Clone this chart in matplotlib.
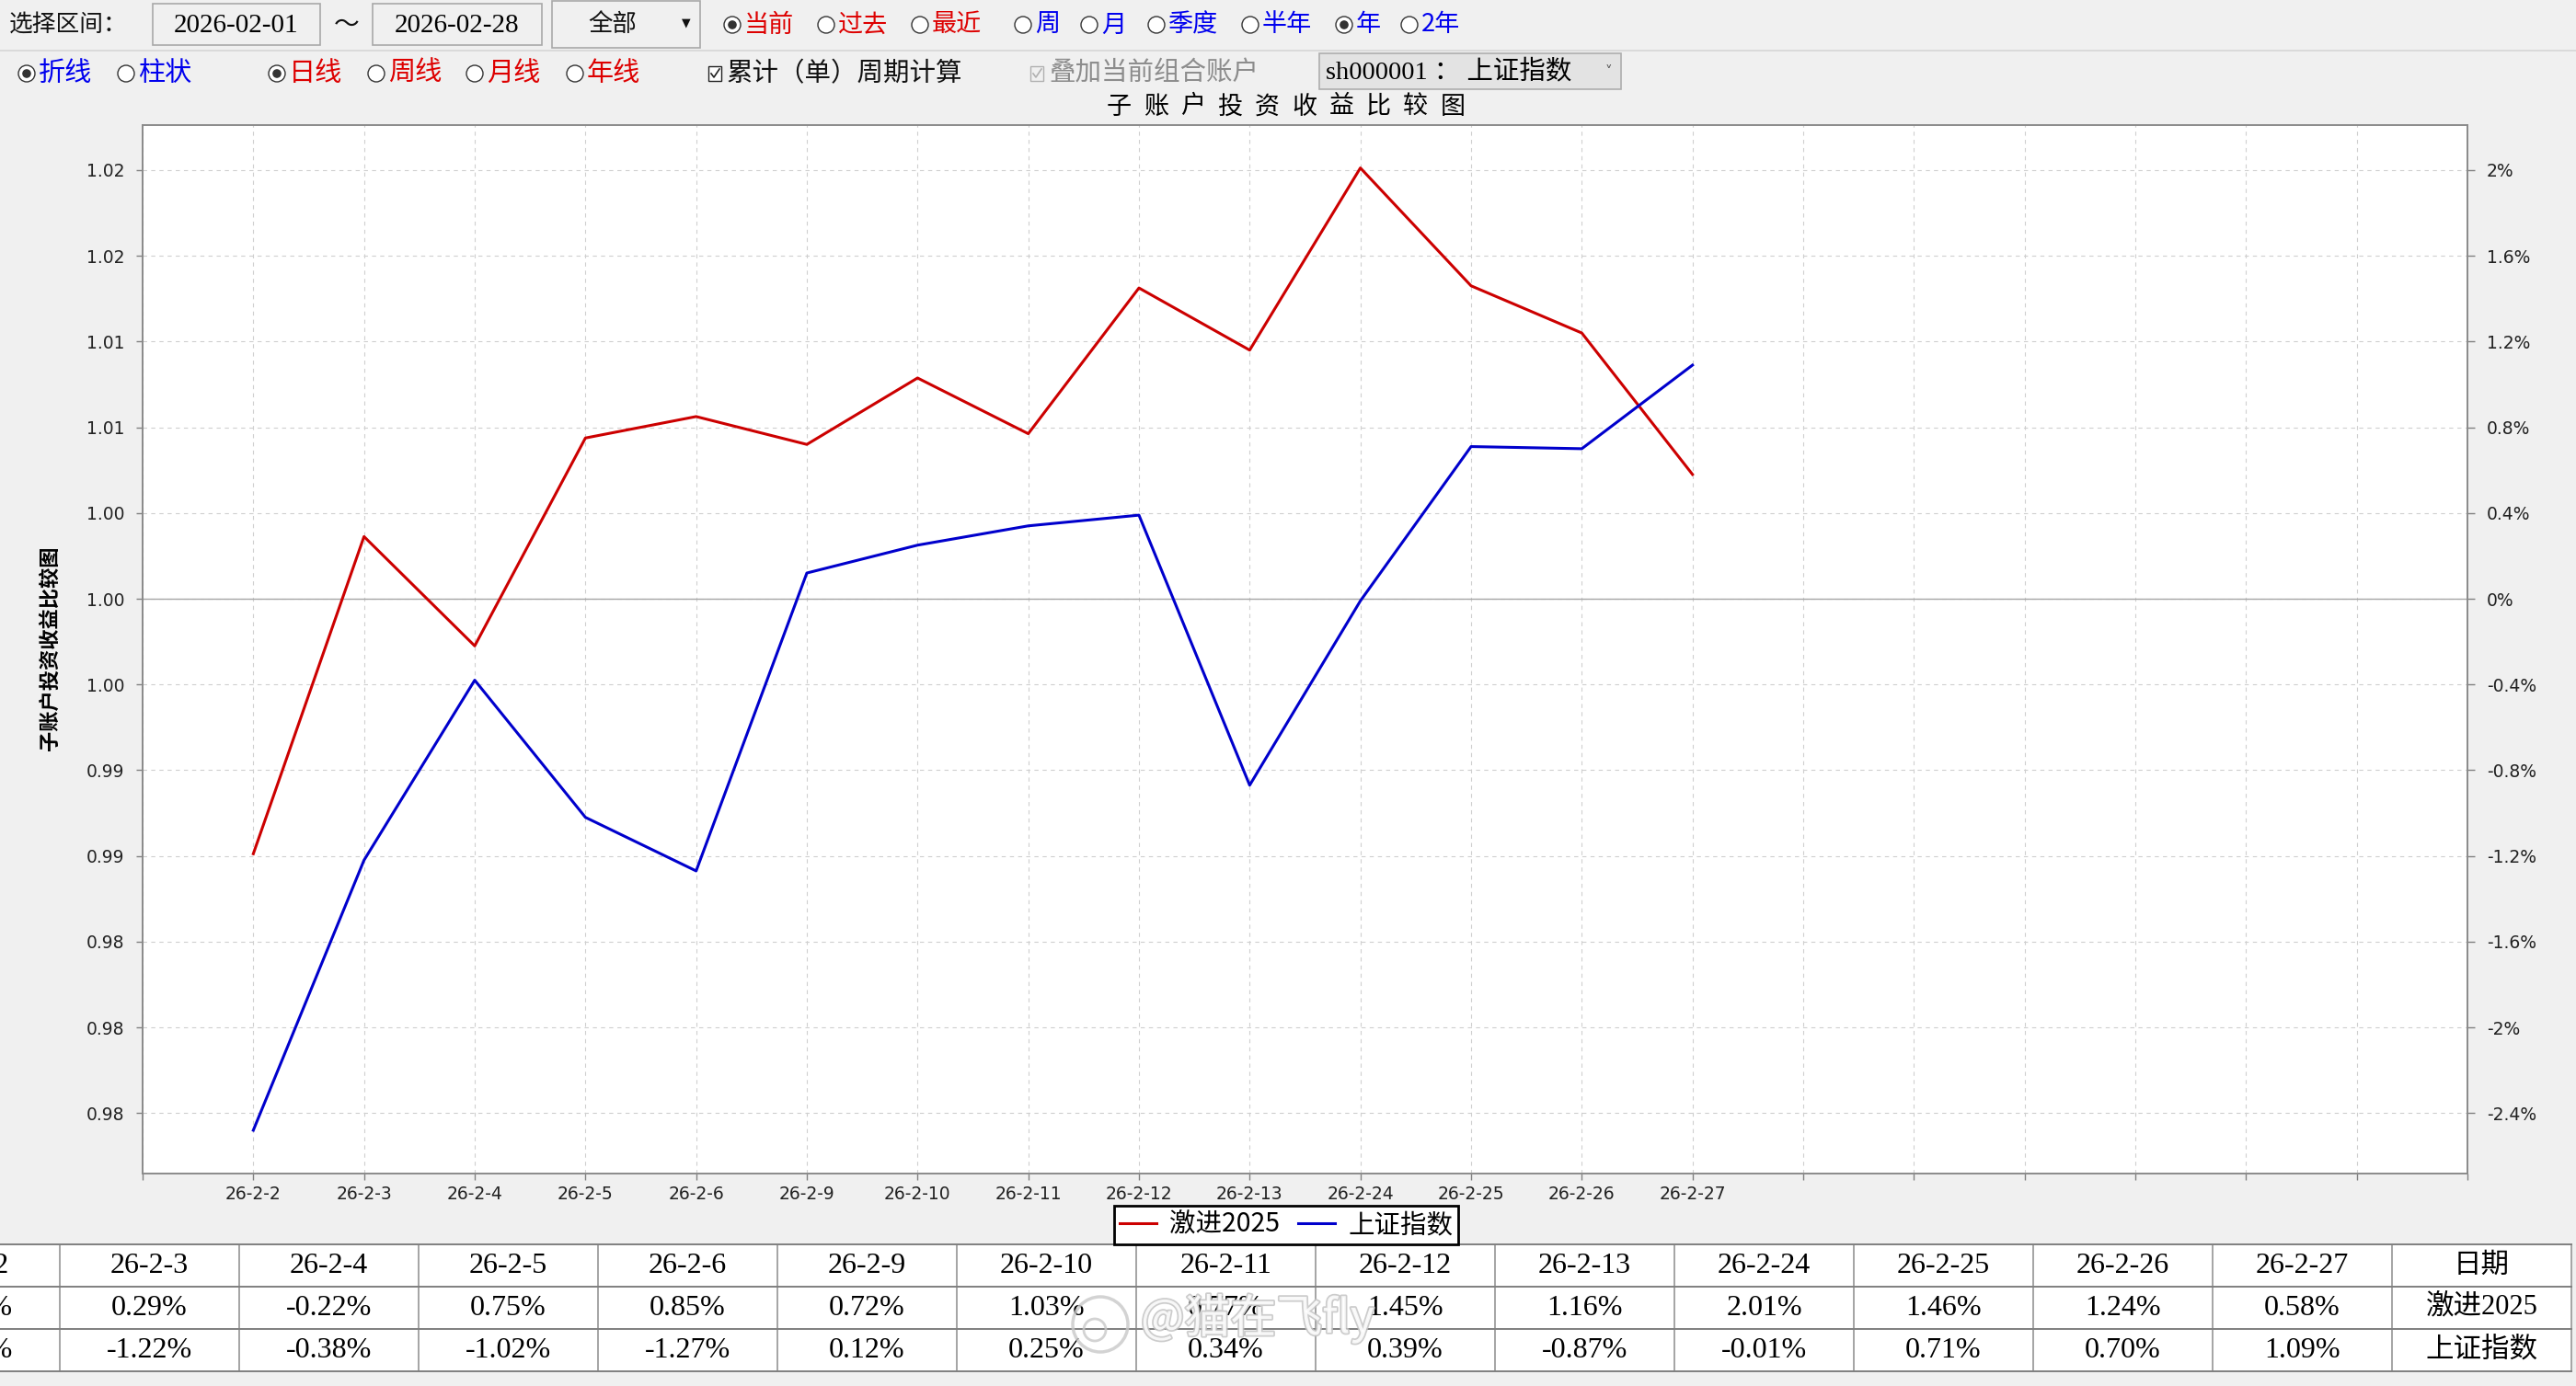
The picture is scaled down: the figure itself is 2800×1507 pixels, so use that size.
import matplotlib
matplotlib.use('Agg')
import matplotlib.pyplot as plt
from matplotlib.patches import Rectangle, Circle
import matplotlib.patheffects as pe

# ---------------- data ----------------
dates = ['26-2-2', '26-2-3', '26-2-4', '26-2-5', '26-2-6', '26-2-9', '26-2-10',
         '26-2-11', '26-2-12', '26-2-13', '26-2-24', '26-2-25', '26-2-26', '26-2-27']
series_names = ['激进2025', '上证指数']
aggressive = [-1.19, 0.29, -0.22, 0.75, 0.85, 0.72, 1.03, 0.77, 1.45, 1.16, 2.01, 1.46, 1.24, 0.58]
index_sh = [-2.48, -1.22, -0.38, -1.02, -1.27, 0.12, 0.25, 0.34, 0.39, -0.87, -0.01, 0.71, 0.70, 1.09]
pct_ticks = [-2.4, -2.0, -1.6, -1.2, -0.8, -0.4, 0.0, 0.4, 0.8, 1.2, 1.6, 2.0]
pct_tick_labels = ['-2.4%', '-2%', '-1.6%', '-1.2%', '-0.8%', '-0.4%', '0%', '0.4%', '0.8%', '1.2%', '1.6%', '2%']
ratio_tick_labels = ['0.98', '0.98', '0.98', '0.99', '0.99', '1.00', '1.00', '1.00', '1.01', '1.01', '1.02', '1.02']
chart_title = '子账户投资收益比较图'
table_header = '日期'

range_label = '选择区间：'
start_date = '2026-02-01'
end_date = '2026-02-28'
scope_choice = '全部'
row1_radios = [('当前', True, 'r'), ('过去', False, 'r'), ('最近', False, 'r'), ('周', False, 'b'),
               ('月', False, 'b'), ('季度', False, 'b'), ('半年', False, 'b'), ('年', True, 'b'),
               ('2年', False, 'b')]
row2_radios = [('折线', True, 'b'), ('柱状', False, 'b'), ('日线', True, 'r'), ('周线', False, 'r'),
               ('月线', False, 'r'), ('年线', False, 'r')]
check1 = '累计（单）周期计算'
check2 = '叠加当前组合账户'
index_choice = 'sh000001 ： 上证指数'
watermark = '@猫在飞fly'

# ---------------- layout ----------------
W, H = 2800, 1507
RED_T, BLUE_T = '#DD0000', '#0000EE'
CJK = ['Noto Sans CJK SC', 'DejaVu Sans']
SERIF = ['Liberation Serif', 'Noto Sans CJK SC', 'DejaVu Sans']

fig = plt.figure(figsize=(W / 100, H / 100), dpi=100, facecolor='#F0F0F0')
bg = fig.add_axes([0, 0, 1, 1], zorder=0)
bg.set_xlim(0, W)
bg.set_ylim(H, 0)
bg.axis('off')

# ---- toolbar row 1 ----
y1 = 27
bg.text(10, y1, range_label, fontsize=18.5, family=CJK, va='center', ha='left', color='#111111')
for (x0, x1_, txt) in [(166, 348, start_date), (405, 589, end_date)]:
    bg.add_patch(Rectangle((x0, 4), x1_ - x0, 45, fc='#F0F0F0', ec='#A8A8A8', lw=1.2))
    bg.text((x0 + x1_) / 2, y1 + 1, txt, fontsize=21, family=SERIF, va='center', ha='center', color='black')
bg.text(377, y1, '～', fontsize=20, family=CJK, va='center', ha='center', color='#111111')
bg.add_patch(Rectangle((600, 1), 161, 51, fc='#F0F0F0', ec='#A8A8A8', lw=1.2))
bg.text(666, y1, scope_choice, fontsize=19, family=CJK, va='center', ha='center', color='#111111')
bg.text(746, y1 - 2, '▼', fontsize=9, family=['DejaVu Sans'], va='center', ha='center', color='#111111')

def radio(xc, yc, sel, label, col, size):
    bg.add_patch(Circle((xc, yc), 9, fc='white', ec='#333333', lw=1.0))
    if sel:
        bg.add_patch(Circle((xc, yc), 4.8, fc='#333333', ec='none'))
    bg.text(xc + 13, yc, label, fontsize=size, family=CJK, va='center', ha='left',
            color=RED_T if col == 'r' else BLUE_T)

row1_x = [796, 898, 1000, 1112, 1184, 1257, 1359, 1461, 1532]
for xc, (lab, sel, col) in zip(row1_x, row1_radios):
    radio(xc, y1, sel, lab, col, 19.5)

bg.plot([0, W], [55, 55], color='#D6D6D6', lw=1.2)

# ---- toolbar row 2 ----
y2 = 80
row2_x = [29, 137, 301, 409, 516, 625]
for xc, (lab, sel, col) in zip(row2_x, row2_radios):
    radio(xc, y2, sel, lab, col, 21)

def checkbox(xc, yc, label, enabled):
    c = '#222222' if enabled else '#B0B0B0'
    bg.add_patch(Rectangle((xc - 7, yc - 8), 14, 16, fc='white' if enabled else '#F0F0F0', ec=c, lw=1.0))
    bg.plot([xc - 4, xc - 1, xc + 5], [yc, yc + 4, yc - 5], color=c, lw=1.2)
    bg.text(xc + 13, yc, label, fontsize=20.5, family=CJK, va='center', ha='left',
            color='#111111' if enabled else '#8C8C8C')

checkbox(777, y2, check1, True)
checkbox(1127, y2, check2, False)
bg.add_patch(Rectangle((1434, 58), 328, 39, fc='#E3E3E3', ec='#ADADAD', lw=1.2))
bg.text(1441, 78, index_choice, fontsize=20.5, family=SERIF, va='center', ha='left', color='black')
bg.text(1748, 79, '˅', fontsize=11, family=['DejaVu Sans'], va='center', ha='center', color='#555555')

# ---- chart title (letter-spaced) ----
n_t = len(chart_title)
for i, ch in enumerate(chart_title):
    bg.text(1216 + (1579 - 1216) * i / (n_t - 1), 116, ch, fontsize=19.5, family=CJK,
            va='center', ha='center', color='black')

# y-axis title
bg.text(54, 705, chart_title, rotation=90, fontsize=16, family=CJK, va='center', ha='center',
        color='black', fontweight='bold')

# ---------------- main plot ----------------
ax = fig.add_axes([155 / W, 1 - 1276 / H, (2682 - 155) / W, (1276 - 136) / H], zorder=2)
ax.set_facecolor('white')
xs = list(range(len(dates)))
l1, = ax.plot(xs, aggressive, color='#CC0000', lw=2.2, zorder=3)
l2, = ax.plot(xs, index_sh, color='#0000CC', lw=2.2, zorder=3)
ax.set_xlim(-1, 20)
ylim = (-2.682, 2.21)
ax.set_ylim(*ylim)
xt = list(range(-1, 21))
ax.set_xticks(xt)
ax.set_xticklabels([dates[t] if 0 <= t < len(dates) else '' for t in xt])
ax.set_yticks(pct_ticks)
ax.set_yticklabels(ratio_tick_labels)
ax.grid(True, linestyle=(0, (4, 4)), color='#CFCFCF', lw=0.8, zorder=1)
ax.axhline(0, color='#A6A6A6', lw=1.0, zorder=2)
ax.tick_params(axis='both', direction='out', length=5, width=1, color='#808080',
               labelsize=13.5, labelcolor='#222222')
ax.tick_params(axis='x', pad=4)
ax.tick_params(axis='y', pad=9)
for s in ax.spines.values():
    s.set_color('#8A8A8A')
    s.set_linewidth(1.2)

ax2 = ax.twinx()
ax2.set_ylim(*ylim)
ax2.set_yticks(pct_ticks)
ax2.set_yticklabels(pct_tick_labels)
ax2.tick_params(axis='y', direction='out', length=6, width=1, color='#808080',
                labelsize=13.5, labelcolor='#222222', pad=9)
for s in ax2.spines.values():
    s.set_color('#8A8A8A')
    s.set_linewidth(1.2)
for t in ax.get_xticklabels() + ax.get_yticklabels() + ax2.get_yticklabels():
    t.set_family(['DejaVu Sans'])

leg = fig.legend([l1, l2], series_names, loc='center', bbox_to_anchor=(1398 / W, 1 - 1332 / H),
                 ncol=2, frameon=True, fancybox=False, edgecolor='black', framealpha=1,
                 prop={'family': CJK, 'size': 20.5}, handlelength=1.4, handletextpad=0.5,
                 columnspacing=0.7, borderpad=0.2, borderaxespad=0)
leg.get_frame().set_linewidth(2)

# ---------------- table ----------------
u0 = (0 - 65) / 195 + 1
u1 = (2796 - 65) / 195 + 1
tab = fig.add_axes([0, 1 - 1491 / H, 2796 / W, (1491 - 1353) / H], zorder=1)
tab.set_xlim(u0, u1)
tab.set_ylim(3, 0)
tab.set_facecolor('white')
tab.set_xticks([])
tab.set_yticks([])
for s in tab.spines.values():
    s.set_visible(False)
ncol = len(dates)
tab.vlines(range(1, ncol + 2), 0, 3, color='#8C8C8C', lw=1.1)
tab.hlines([0, 1, 2, 3], u0, u1, color='#7F7F7F', lw=1.4, clip_on=False)
rows = [dates,
        ['%.2f%%' % v for v in aggressive],
        ['%.2f%%' % v for v in index_sh]]
side = [table_header] + series_names
for r in range(3):
    for k in range(ncol):
        tab.text(k + 0.5, r + 0.5, rows[r][k], fontsize=23, family=SERIF, ha='center', va='center',
                 color='black', clip_on=True)
    tab.text(ncol + 0.5, r + 0.5, side[r], fontsize=22, family=SERIF, ha='center', va='center',
             color='black')

# watermark overlay
wm = fig.add_axes([0, 0, 1, 1], zorder=5)
wm.set_xlim(0, W); wm.set_ylim(H, 0); wm.axis('off')
wm.text(1240, 1434, watermark, fontsize=36, family=CJK, ha='left', va='center', color='white',
        alpha=0.85, path_effects=[pe.withStroke(linewidth=2.5, foreground='#C4C4C4')])
wm.add_patch(Circle((1196, 1440), 30, fc='none', ec='#C8C8C8', lw=2.5, alpha=0.8))
wm.add_patch(Circle((1190, 1446), 12, fc='none', ec='#C8C8C8', lw=2.0, alpha=0.8))

fig.savefig('out.png', dpi=100, facecolor=fig.get_facecolor())
